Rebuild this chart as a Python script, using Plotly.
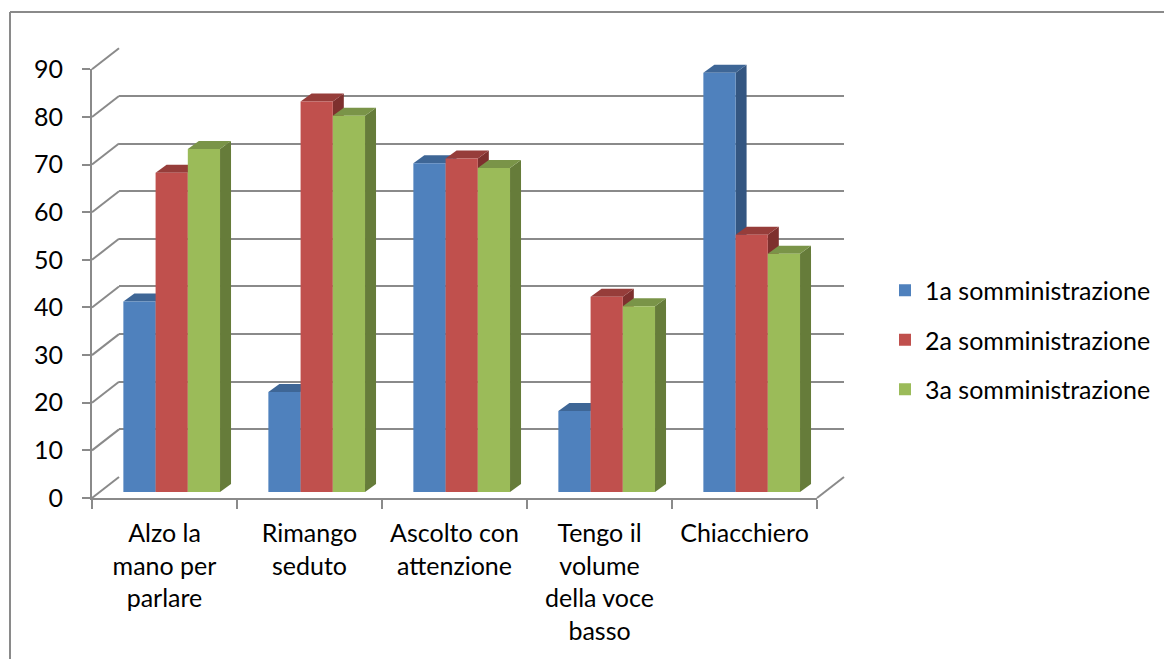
import plotly.graph_objects as go

# ---------------- data ----------------
categories = ["Alzo la<br>mano per<br>parlare", "Rimango<br>seduto", "Ascolto con<br>attenzione",
              "Tengo il<br>volume<br>della voce<br>basso", "Chiacchiero"]
series_names = ["1a somministrazione", "2a somministrazione", "3a somministrazione"]
serie_1 = [40, 21, 69, 17, 88]
serie_2 = [67, 82, 70, 41, 54]
serie_3 = [72, 79, 68, 39, 50]
y_ticks = [0, 10, 20, 30, 40, 50, 60, 70, 80, 90]

# ---------------- style / geometry ----------------
W, H = 1164, 659
FONT = "Lato"
FS = 25
GRID = "#8A8A8A"
front_cols = ["#4F81BD", "#C0504D", "#9BBB59"]
top_cols = ["#3E6696", "#963D3A", "#7A9448"]
side_cols = ["#345681", "#7E302E", "#667C3A"]

FX0, FX1 = 92, 817          # front plane x extent (px)
FY0, FY90 = 498, 69.3       # front plane y pixel of 0 and 90
BACK = (27, 21)             # back wall offset (px right, px up)
BARP = (7.2, 6)             # bar plane offset
DEPTH = (11, 8)             # bar depth offset
YMAX = 90
NC = len(categories)

def dom_x(a, b):
    return [a / W, b / W]

def dom_y(top, bottom):
    return [1 - bottom / H, 1 - top / H]

def py(v, dy=0.0):
    # pixel y on front plane for value v, shifted up by dy px
    return FY0 - (FY0 - FY90) * v / YMAX - dy

px_per_cat = (FX1 - FX0) / NC
px_per_unit = (FY0 - FY90) / YMAX
ddx = DEPTH[0] / px_per_cat
ddy = DEPTH[1] / px_per_unit

fig = go.Figure()

# front axis subplot (x, y): labels and axis lines
fig.add_trace(go.Scatter(x=categories, y=serie_1, mode="markers", marker=dict(opacity=0),
                         showlegend=False, hoverinfo="skip", xaxis="x", yaxis="y"))
# back wall subplot (x2, y2): gridlines
fig.add_trace(go.Scatter(x=[0], y=[0], mode="markers", marker=dict(opacity=0),
                         showlegend=False, hoverinfo="skip", xaxis="x2", yaxis="y2"))

# bars (x3, y3)
gap = 1 / 3
bw = (1 - gap) / 3
all_series = [serie_1, serie_2, serie_3]
for k, (name, vals) in enumerate(zip(series_names, all_series)):
    fig.add_trace(go.Bar(x=list(range(NC)), y=vals, name=name, marker=dict(color=front_cols[k], line=dict(width=0)),
                         xaxis="x3", yaxis="y3", legendgroup=name, hoverinfo="y+name"))

shapes = []
# depth faces of bars, drawn in data coords of the bar plane
for i in range(NC):
    for k, vals in enumerate(all_series):
        v = vals[i]
        xl = i - (1 - gap) / 2 + k * bw
        xr = xl + bw
        side = f"M {xr},0 L {xr},{v} L {xr+ddx},{v+ddy} L {xr+ddx},{ddy} Z"
        top = f"M {xl},{v} L {xr},{v} L {xr+ddx},{v+ddy} L {xl+ddx},{v+ddy} Z"
        shapes.append(dict(type="path", path=side, xref="x3", yref="y3", layer="below",
                           fillcolor=side_cols[k], line=dict(width=0)))
        shapes.append(dict(type="path", path=top, xref="x3", yref="y3", layer="below",
                           fillcolor=top_cols[k], line=dict(width=0)))

# left wall diagonals from the front axis ticks to the back gridlines
for v in y_ticks:
    shapes.append(dict(type="line", xref="paper", yref="paper",
                       x0=FX0 / W, y0=1 - py(v) / H,
                       x1=(FX0 + BACK[0]) / W, y1=1 - py(v, BACK[1]) / H,
                       line=dict(color=GRID, width=2), layer="below"))
# floor right edge
shapes.append(dict(type="line", xref="paper", yref="paper",
                   x0=FX1 / W, y0=1 - py(0) / H,
                   x1=(FX1 + BACK[0]) / W, y1=1 - py(0, BACK[1]) / H,
                   line=dict(color=GRID, width=2), layer="below"))
# chart area border (left and top, rest cropped)
shapes.append(dict(type="line", xref="paper", yref="paper", x0=10 / W, y0=1 - 12 / H, x1=10 / W, y1=-0.1,
                   line=dict(color=GRID, width=2)))
shapes.append(dict(type="line", xref="paper", yref="paper", x0=10 / W, y0=1 - 12 / H, x1=1.1, y1=1 - 12 / H,
                   line=dict(color=GRID, width=2)))

fig.update_layout(
    width=W, height=H,
    margin=dict(l=0, r=0, t=0, b=0, autoexpand=False),
    paper_bgcolor="white", plot_bgcolor="rgba(0,0,0,0)",
    font=dict(family=FONT, size=FS, color="black"),
    barmode="group", bargap=gap, bargroupgap=0,
    showlegend=True,
    legend=dict(x=885 / W, y=1 - 340 / H, xanchor="left", yanchor="middle",
                font=dict(family=FONT, size=FS), tracegroupgap=14, bgcolor="rgba(0,0,0,0)"),
    xaxis=dict(domain=dom_x(FX0, FX1), anchor="y", type="category", categoryorder="array",
               categoryarray=categories, range=[-0.5, NC - 0.5], tickson="boundaries",
               showline=True, linecolor=GRID, linewidth=2, ticks="outside", ticklen=9,
               tickcolor=GRID, tickwidth=2, showgrid=False, zeroline=False,
               ticklabelstandoff=12, automargin=False,
               tickfont=dict(family=FONT, size=FS), fixedrange=True),
    yaxis=dict(domain=dom_y(FY90, FY0), anchor="x", range=[0, YMAX], tickvals=y_ticks,
               showline=True, linecolor=GRID, linewidth=2, ticks="outside", ticklen=8,
               tickcolor=GRID, tickwidth=2, showgrid=False, zeroline=False, automargin=False,
               ticklabelstandoff=14, tickfont=dict(family=FONT, size=FS), fixedrange=True),
    xaxis2=dict(domain=dom_x(FX0 + BACK[0], FX1 + BACK[0]), anchor="y2", range=[-0.5, NC - 0.5],
                showgrid=False, showticklabels=False, zeroline=False, showline=False, ticks="",
                fixedrange=True),
    yaxis2=dict(domain=dom_y(FY90 - BACK[1], FY0 - BACK[1]), anchor="x2", range=[0, YMAX],
                tickvals=y_ticks, showgrid=True, gridcolor=GRID, gridwidth=2,
                showticklabels=False, zeroline=False, showline=False, ticks="", fixedrange=True),
    xaxis3=dict(domain=dom_x(FX0 + BARP[0], FX1 + BARP[0]), anchor="y3", range=[-0.5, NC - 0.5],
                showgrid=False, showticklabels=False, zeroline=False, showline=False, ticks="",
                fixedrange=True),
    yaxis3=dict(domain=dom_y(FY90 - BARP[1], FY0 - BARP[1]), anchor="x3", range=[0, YMAX],
                showgrid=False, showticklabels=False, zeroline=False, showline=False, ticks="",
                fixedrange=True),
    shapes=shapes,
)

fig.write_html("out.html")
